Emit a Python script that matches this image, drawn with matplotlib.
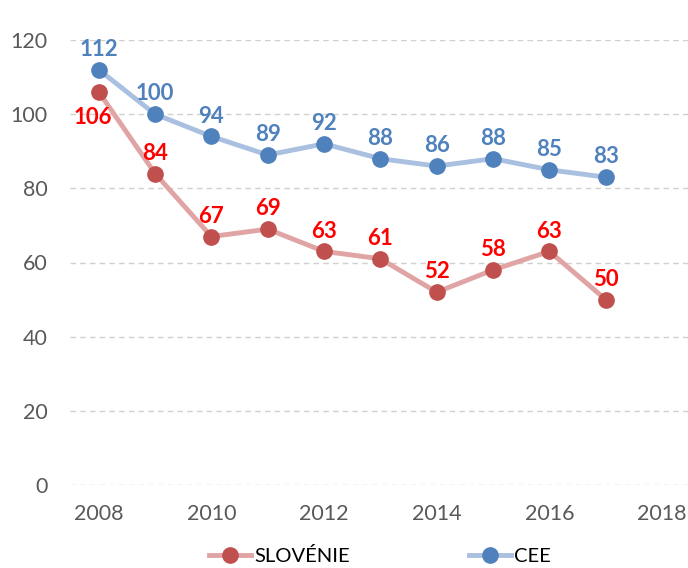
import matplotlib
matplotlib.use("Agg")
import matplotlib.pyplot as plt
from matplotlib.lines import Line2D

years = [2008, 2009, 2010, 2011, 2012, 2013, 2014, 2015, 2016, 2017]
slovenie = [106, 84, 67, 69, 63, 61, 52, 58, 63, 50]
cee = [112, 100, 94, 89, 92, 88, 86, 88, 85, 83]
x_ticks = [2008, 2010, 2012, 2014, 2016, 2018]
y_ticks = [0, 20, 40, 60, 80, 100, 120]
series_names = ["SLOVÉNIE", "CEE"]

plt.rcParams['font.family'] = ['Lato', 'DejaVu Sans']

fig = plt.figure(figsize=(6.88, 5.68), dpi=100)
W, H = 688, 568
ax = fig.add_axes([70 / W, 83 / H, 618 / W, 445 / H])

sl_line, sl_mark, sl_lab = "#E0A4A4", "#C0504D", "#FF0000"
ce_line, ce_mark, ce_lab = "#A9C0E0", "#4F81BD", "#4F81BD"

ax.plot(years, cee, color=ce_line, lw=3.5, zorder=2, clip_on=False)
ax.plot(years, cee, 'o', color=ce_mark, ms=11, zorder=3, clip_on=False)
ax.plot(years, slovenie, color=sl_line, lw=3.5, zorder=2, clip_on=False)
ax.plot(years, slovenie, 'o', color=sl_mark, ms=11, zorder=3, clip_on=False)

for x, v in zip(years, cee):
    ax.annotate(str(v), (x, v), xytext=(0, 7), textcoords='offset points',
                ha='center', va='bottom', color=ce_lab, fontsize=16,
                fontweight='bold')
for i, (x, v) in enumerate(zip(years, slovenie)):
    if i == 0:
        ax.annotate(str(v), (x, v), xytext=(-4, -11), textcoords='offset points',
                    ha='center', va='top', color=sl_lab, fontsize=16,
                    fontweight='bold')
    else:
        ax.annotate(str(v), (x, v), xytext=(0, 7), textcoords='offset points',
                    ha='center', va='bottom', color=sl_lab, fontsize=16,
                    fontweight='bold')

ax.set_xlim(2007.49, 2018.46)
ax.set_ylim(0, 120)
ax.set_xticks(x_ticks)
ax.set_yticks(y_ticks)
ax.tick_params(length=0, labelsize=15.5, colors="#595959", pad=14)
ax.tick_params(axis='y', pad=16)
for s in ax.spines.values():
    s.set_visible(False)
ax.grid(axis='y', color="#D0D0D0", linestyle=(0, (4, 3)), lw=1)
ax.set_axisbelow(True)

handles = [
    Line2D([], [], color=sl_line, lw=3.5, marker='o', ms=11,
           markerfacecolor=sl_mark, markeredgecolor=sl_mark),
    Line2D([], [], color=ce_line, lw=3.5, marker='o', ms=11,
           markerfacecolor=ce_mark, markeredgecolor=ce_mark),
]
fig.legend(handles, series_names, loc='center', bbox_to_anchor=(380 / W, 1 - 556 / H),
           ncol=2, frameon=False, fontsize=14.5, handlelength=2.1,
           handletextpad=0.15, columnspacing=5.9)

fig.savefig("out.png", dpi=100)
